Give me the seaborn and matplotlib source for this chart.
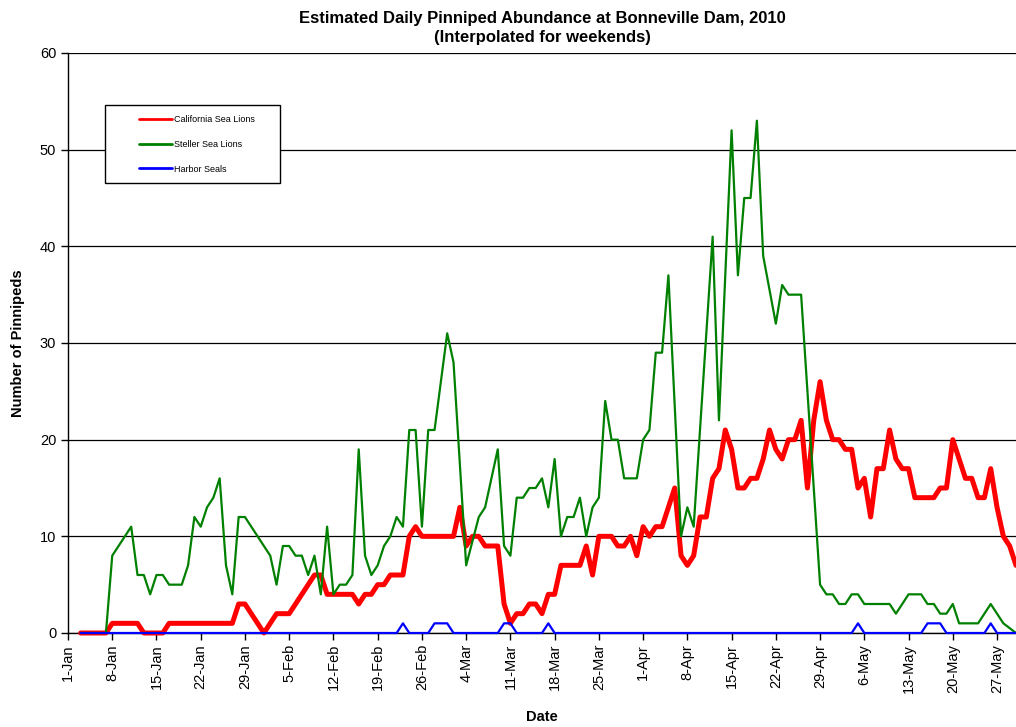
import numpy as np
import pandas as pd
import matplotlib.pyplot as plt
import seaborn as sns
from matplotlib.lines import Line2D
from matplotlib.patches import Rectangle

# Datos diarios (posicion de categoria 2 = 3-Jan hasta 150)
start_pos = 2

california = [0, 0, 0, 0, 0, 1, 1,
              1, 1, 1, 0, 0, 0, 0,
              1, 1, 1, 1, 1, 1, 1,
              1, 1, 1, 1, 3, 3, 2,
              1, 0, 1, 2, 2, 2, 3,
              4, 5, 6, 6, 4, 4, 4,
              4, 4, 3, 4, 4, 5, 5,
              6, 6, 6, 10, 11, 10, 10,
              10, 10, 10, 10, 13, 9, 10,
              10, 9, 9, 9, 3, 1, 2,
              2, 3, 3, 2, 4, 4, 7,
              7, 7, 7, 9, 6, 10, 10,
              10, 9, 9, 10, 8, 11, 10,
              11, 11, 13, 15, 8, 7, 8,
              12, 12, 16, 17, 21, 19, 15,
              15, 16, 16, 18, 21, 19, 18,
              20, 20, 22, 15, 22, 26, 22,
              20, 20, 19, 19, 15, 16, 12,
              17, 17, 21, 18, 17, 17, 14,
              14, 14, 14, 15, 15, 20, 18,
              16, 16, 14, 14, 17, 13, 10,
              9, 7]

steller = [0, 0, 0, 0, 0, 8, 9,
           10, 11, 6, 6, 4, 6, 6,
           5, 5, 5, 7, 12, 11, 13,
           14, 16, 7, 4, 12, 12, 11,
           10, 9, 8, 5, 9, 9, 8,
           8, 6, 8, 4, 11, 4, 5,
           5, 6, 19, 8, 6, 7, 9,
           10, 12, 11, 21, 21, 11, 21,
           21, 26, 31, 28, 17.5, 7, 9.5,
           12, 13, 16, 19, 9, 8, 14,
           14, 15, 15, 16, 13, 18, 10,
           12, 12, 14, 10, 13, 14, 24,
           20, 20, 16, 16, 16, 20, 21,
           29, 29, 37, 23.5, 10, 13, 11,
           21, 31, 41, 22, 37, 52, 37,
           45, 45, 53, 39, 35.5, 32, 36,
           35, 35, 35, 25, 15, 5, 4,
           4, 3, 3, 4, 4, 3, 3,
           3, 3, 3, 2, 3, 4, 4,
           4, 3, 3, 2, 2, 3, 1,
           1, 1, 1, 2, 3, 2, 1,
           0.5, 0]

harbor = [0, 0, 0, 0, 0, 0, 0,
          0, 0, 0, 0, 0, 0, 0,
          0, 0, 0, 0, 0, 0, 0,
          0, 0, 0, 0, 0, 0, 0,
          0, 0, 0, 0, 0, 0, 0,
          0, 0, 0, 0, 0, 0, 0,
          0, 0, 0, 0, 0, 0, 0,
          0, 0, 1, 0, 0, 0, 0,
          1, 1, 1, 0, 0, 0, 0,
          0, 0, 0, 0, 1, 1, 0,
          0, 0, 0, 0, 1, 0, 0,
          0, 0, 0, 0, 0, 0, 0,
          0, 0, 0, 0, 0, 0, 0,
          0, 0, 0, 0, 0, 0, 0,
          0, 0, 0, 0, 0, 0, 0,
          0, 0, 0, 0, 0, 0, 0,
          0, 0, 0, 0, 0, 0, 0,
          0, 0, 0, 0, 1, 0, 0,
          0, 0, 0, 0, 0, 0, 0,
          0, 1, 1, 1, 0, 0, 0,
          0, 0, 0, 0, 1, 0, 0,
          0, 0]

tick_labels = ['1-Jan', '8-Jan', '15-Jan', '22-Jan', '29-Jan', '5-Feb', '12-Feb',
               '19-Feb', '26-Feb', '4-Mar', '11-Mar', '18-Mar', '25-Mar', '1-Apr',
               '8-Apr', '15-Apr', '22-Apr', '29-Apr', '6-May', '13-May', '20-May',
               '27-May']

series_names = ['California Sea Lions', 'Steller Sea Lions', 'Harbor Seals']
colors = ['#FF0000', '#008000', '#0000FF']
widths = [3.6, 1.6, 1.6]

pos = np.arange(start_pos, start_pos + len(california))
data = pd.DataFrame({'pos': pos,
                     'California Sea Lions': california,
                     'Steller Sea Lions': steller,
                     'Harbor Seals': harbor})

sns.set_style('white')
plt.rcParams['font.family'] = ['Liberation Sans', 'DejaVu Sans']
plt.rcParams['text.color'] = 'black'
plt.rcParams['axes.labelcolor'] = 'black'
plt.rcParams['xtick.color'] = 'black'
plt.rcParams['ytick.color'] = 'black'

fig = plt.figure(figsize=(10.16, 7.27), dpi=100)
ax = fig.add_axes([68 / 1016, 1 - 633 / 727, 948 / 1016, 580 / 727])

for name, col, lw in zip(series_names, colors, widths):
    sns.lineplot(x='pos', y=name, data=data, color=col, linewidth=lw, ax=ax,
                 clip_on=False, zorder=3)

ax.set_xlim(0, 150)
ax.set_ylim(0, 60)
ax.set_yticks(range(0, 61, 10))
ax.set_xticks(range(0, 7 * len(tick_labels), 7))
ax.set_xticklabels(tick_labels, rotation=90, fontsize=10.5)
ax.tick_params(axis='y', labelsize=10.5, direction='out', length=5, width=1, left=True)
ax.tick_params(axis='x', direction='out', length=5, width=1, bottom=True, pad=3)
ax.yaxis.grid(True, color='black', linewidth=0.9)
ax.set_axisbelow(True)

for s in ['top', 'right']:
    ax.spines[s].set_visible(False)
for s in ['left', 'bottom']:
    ax.spines[s].set_color('black')
    ax.spines[s].set_linewidth(1)

ax.set_xlabel('Date', fontsize=10.5, fontweight='bold', labelpad=12)
ax.set_ylabel('Number of Pinnipeds', fontsize=10.5, fontweight='bold')
ax.yaxis.set_label_coords(-43 / 948, 0.5)
ax.set_title('Estimated Daily Pinniped Abundance at Bonneville Dam, 2010\n(Interpolated for weekends)',
             fontsize=12, fontweight='bold', pad=8, linespacing=1.3)

# Cuadro de leyenda
box = Rectangle((37 / 948, 450 / 580), 175 / 948, 78 / 580, transform=ax.transAxes,
                facecolor='white', edgecolor='black', linewidth=1, zorder=4)
ax.add_patch(box)
handles = [Line2D([0], [0], color=c, linewidth=2) for c in colors]
leg = ax.legend(handles, series_names, loc='upper left', bbox_to_anchor=(71 / 948, 518 / 580),
                frameon=False, fontsize=6.5, handlelength=3.7, handletextpad=0.2,
                labelspacing=1.75, borderpad=0, borderaxespad=0)
leg.set_zorder(5)

plt.savefig('out.png', dpi=100)
